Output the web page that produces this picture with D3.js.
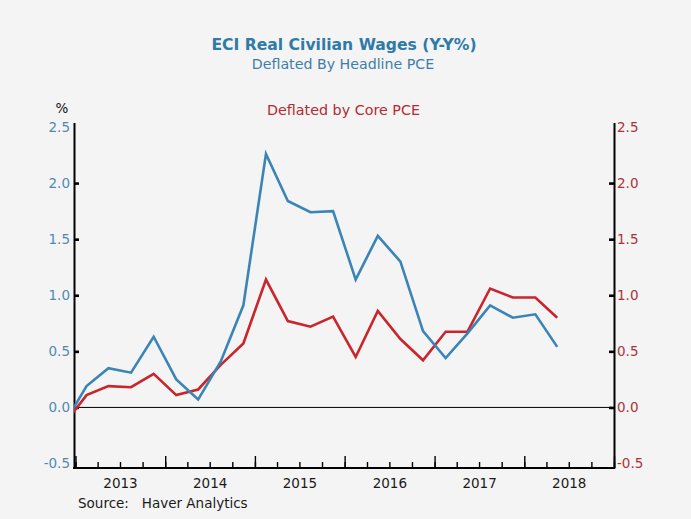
<!DOCTYPE html>
<html>
<head>
<meta charset="utf-8">
<script src="https://cdn.jsdelivr.net/npm/d3@7"></script>
<style>
  html, body { margin: 0; padding: 0; background: #f4f4f4; }
  svg { display: block; }
  text { font-family: "DejaVu Sans", Verdana, sans-serif; }
</style>
</head>
<body>
<svg id="chart" width="691" height="519"></svg>
<script>
// ---- data (quarterly, Y/Y %) ----
const quarters = ["2012Q4",
  "2013Q1","2013Q2","2013Q3","2013Q4",
  "2014Q1","2014Q2","2014Q3","2014Q4",
  "2015Q1","2015Q2","2015Q3","2015Q4",
  "2016Q1","2016Q2","2016Q3","2016Q4",
  "2017Q1","2017Q2","2017Q3","2017Q4",
  "2018Q1","2018Q2"];
const headlineValues = [-0.15,
  0.19, 0.35, 0.31, 0.63,
  0.25, 0.07, 0.41, 0.91,
  2.26, 1.84, 1.74, 1.75,
  1.14, 1.53, 1.30, 0.68,
  0.44, 0.66, 0.91, 0.80,
  0.83, 0.54];
const coreValues = [-0.15,
  0.11, 0.19, 0.18, 0.30,
  0.11, 0.16, 0.38, 0.57,
  1.14, 0.77, 0.72, 0.81,
  0.45, 0.86, 0.61, 0.42,
  0.675, 0.675, 1.06, 0.98,
  0.98, 0.80];
const yTickValues = [-0.5, 0.0, 0.5, 1.0, 1.5, 2.0, 2.5];
const yearLabels = [2013, 2014, 2015, 2016, 2017, 2018];
const titleText = "ECI Real Civilian Wages (Y-Y%)";
const subtitleText = "Deflated By Headline PCE";
const rightTitleText = "Deflated by Core PCE";
const unitText = "%";
const sourceText = "Source:   Haver Analytics";

(function draw() {
// ---- layout ----
const BLUE = "#3a85b6", RED = "#c8262c";
const BLUE_TXT = "#4f8ab3", RED_TXT = "#ad3338";
const pL = 74, pR = 614, pT = 122.5, pB = 468;

const parseQ = s => { const yr = +s.slice(0,4), q = +s.slice(5) - 1; return new Date(yr, q*3 + 1, 15); };
const dates = quarters.map(parseQ);
const fmt = d3.formatLocale({decimal: ".", thousands: ",", grouping: [3], currency: ["$", ""], minus: "-"}).format(".1f");

const svg = d3.select("#chart");
svg.append("rect").attr("width", 691).attr("height", 519).attr("fill", "#f4f4f4");

const x = d3.scaleTime().domain([new Date(2013,0,1), new Date(2019,0,1)]).range([pL + 1.5, pR]);
const y = d3.scaleLinear().domain([-0.54, 2.54]).range([pB, pT]);

// clip
svg.append("clipPath").attr("id", "plotclip").append("rect")
  .attr("x", pL).attr("y", pT).attr("width", pR - pL).attr("height", pB - pT);

// zero line
svg.append("line").attr("x1", pL).attr("x2", pR).attr("y1", y(0)).attr("y2", y(0))
  .attr("stroke", "#000").attr("stroke-width", 1);

// bottom axis: quarterly minor ticks, yearly major ticks
const minorAxis = d3.axisBottom(x).ticks(d3.timeMonth.every(3)).tickSize(-6).tickSizeOuter(0).tickFormat("");
const gMinor = svg.append("g").attr("transform", `translate(0,${pB})`).call(minorAxis);
gMinor.select(".domain").remove();
gMinor.selectAll(".tick line").attr("stroke", "#000").attr("stroke-width", 1.4);

const majorAxis = d3.axisBottom(x).ticks(d3.timeYear.every(1)).tickSize(-12).tickSizeOuter(0).tickFormat("");
const gMajor = svg.append("g").attr("transform", `translate(0,${pB})`).call(majorAxis);
gMajor.select(".domain").remove();
gMajor.selectAll(".tick line").attr("stroke", "#000").attr("stroke-width", 1.4);

const labelAxis = d3.axisBottom(x)
  .tickValues(yearLabels.map(yr => new Date(yr, 6, 1)))
  .tickFormat(d3.timeFormat("%Y")).tickSize(0).tickPadding(10);
const gLab = svg.append("g").attr("transform", `translate(0,${pB})`).call(labelAxis);
gLab.select(".domain").remove();
gLab.selectAll("text").attr("font-family", "DejaVu Sans").attr("font-size", 13.5).attr("fill", "#1a1a1a");

// bottom axis line
svg.append("line").attr("x1", pL - 1).attr("x2", pR + 1).attr("y1", pB).attr("y2", pB)
  .attr("stroke", "#000").attr("stroke-width", 2);

// left axis
const leftAxis = d3.axisLeft(y).tickValues(yTickValues).tickFormat(fmt).tickSize(-5).tickSizeOuter(0).tickPadding(4);
const gL = svg.append("g").attr("transform", `translate(${pL},0)`).call(leftAxis);
gL.select(".domain").attr("stroke", "#000").attr("stroke-width", 2);
gL.selectAll(".tick line").attr("stroke", "#000").attr("stroke-width", 2.6)
  .attr("display", d => (d === -0.5 || d === 2.5) ? "none" : null);
gL.selectAll("text").attr("font-family", "DejaVu Sans").attr("font-size", 13.5).attr("fill", BLUE_TXT);

// right axis
const rightAxis = d3.axisRight(y).tickValues(yTickValues).tickFormat(fmt).tickSize(-5).tickSizeOuter(0).tickPadding(3);
const gR = svg.append("g").attr("transform", `translate(${pR},0)`).call(rightAxis);
gR.select(".domain").attr("stroke", "#000").attr("stroke-width", 2);
gR.selectAll(".tick line").attr("stroke", "#000").attr("stroke-width", 2.6)
  .attr("display", d => (d === -0.5 || d === 2.5) ? "none" : null);
gR.selectAll("text").attr("font-family", "DejaVu Sans").attr("font-size", 13.5).attr("fill", RED_TXT);

// lines
const line = d3.line().x((d, i) => x(dates[i])).y(d => y(d));
const gLines = svg.append("g").attr("clip-path", "url(#plotclip)");
gLines.append("path").datum(coreValues).attr("d", line)
  .attr("fill", "none").attr("stroke", RED).attr("stroke-width", 2.6).attr("stroke-linejoin", "miter");
gLines.append("path").datum(headlineValues).attr("d", line)
  .attr("fill", "none").attr("stroke", BLUE).attr("stroke-width", 2.6).attr("stroke-linejoin", "miter");

// titles
svg.append("text").attr("x", 344).attr("y", 49.5).attr("text-anchor", "middle")
  .attr("font-size", 15.6).attr("font-weight", "bold").attr("fill", "#2f7aa7").text(titleText);
svg.append("text").attr("x", 343).attr("y", 68.5).attr("text-anchor", "middle")
  .attr("font-size", 14.2).attr("fill", "#3c7ea8").text(subtitleText);
svg.append("text").attr("x", 343.5).attr("y", 114.5).attr("text-anchor", "middle")
  .attr("font-size", 14.3).attr("fill", "#b52a30").text(rightTitleText);
svg.append("text").attr("x", 62).attr("y", 113).attr("text-anchor", "middle")
  .attr("font-size", 13.5).attr("fill", "#111").text(unitText);
svg.append("text").attr("x", 78).attr("y", 508).attr("xml:space", "preserve")
  .attr("font-size", 13.5).attr("fill", "#1a1a1a").text(sourceText);
})();
</script>
</body>
</html>
